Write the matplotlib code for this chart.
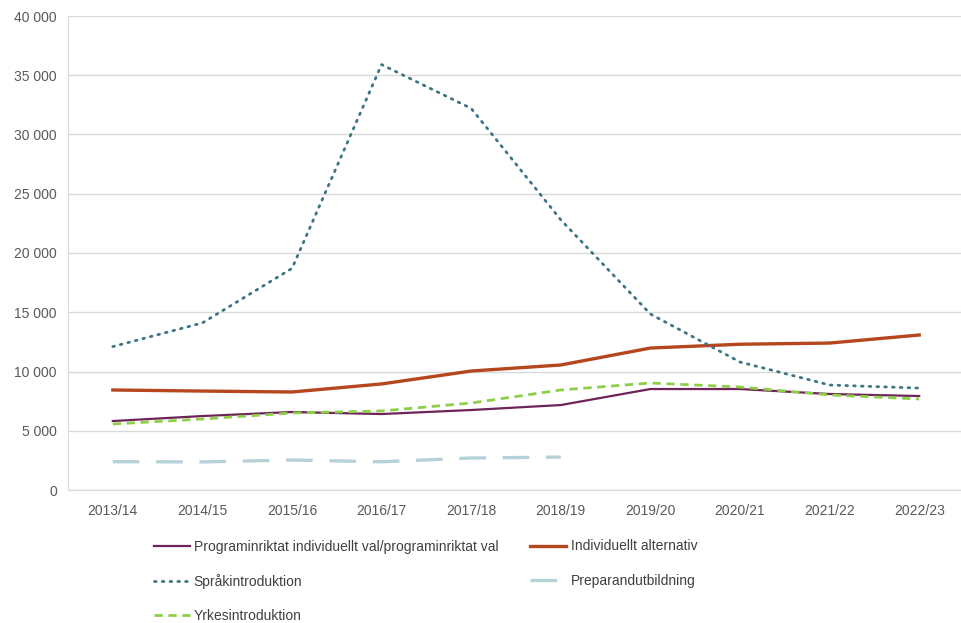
import matplotlib.pyplot as plt
from matplotlib.ticker import FuncFormatter

plt.rcParams['font.family'] = ['Liberation Sans', 'DejaVu Sans']

years = ["2013/14", "2014/15", "2015/16", "2016/17", "2017/18",
         "2018/19", "2019/20", "2020/21", "2021/22", "2022/23"]
programinriktat = [5820, 6240, 6580, 6410, 6750, 7170, 8520, 8520, 8100, 7930]
individuellt = [8440, 8350, 8270, 8950, 10040, 10550, 11980, 12300, 12400, 13080]
sprakintro = [12100, 14100, 18700, 35900, 32200, 22800, 14850, 10800, 8860, 8600]
preparand = [2390, 2370, 2530, 2380, 2700, 2780]
yrkesintro = [5570, 5990, 6500, 6670, 7340, 8440, 9030, 8690, 8020, 7680]

fig = plt.figure(figsize=(9.62, 6.23), dpi=100)
ax = fig.add_axes([68 / 962, 1 - 490 / 623, 896 / 962, 474 / 623])

x = list(range(len(years)))
l1, = ax.plot(x, programinriktat, color="#6e2458", lw=1.6,
              label="Programinriktat individuellt val/programinriktat val")
l2, = ax.plot(x, individuellt, color="#b5461e", lw=2.4,
              label="Individuellt alternativ")
l3, = ax.plot(x, sprakintro, color="#3c7584", lw=2.0, linestyle=(0, (0.6, 2.2)),
              dash_capstyle="round", label="Språkintroduktion")
l4, = ax.plot(x[:len(preparand)], preparand, color="#b6d2d9", lw=2.4,
              linestyle=(0, (8, 5)), label="Preparandutbildning")
l5, = ax.plot(x, yrkesintro, color="#8ecf4a", lw=2.0, linestyle=(0, (3, 2)),
              label="Yrkesintroduktion")

ax.set_xlim(-0.5, len(years) - 0.5)
ax.set_ylim(0, 40000)
ax.set_yticks(range(0, 40001, 5000))
ax.yaxis.set_major_formatter(FuncFormatter(lambda v, p: f"{int(v):,}".replace(",", " ")))
ax.set_xticks(x)
ax.set_xticklabels(years)
ax.grid(axis="y", color="#d9d9d9", lw=1)
ax.set_axisbelow(True)
for s in ["top", "right"]:
    ax.spines[s].set_visible(False)
ax.spines["left"].set_color("#d9d9d9")
ax.spines["bottom"].set_color("#d9d9d9")
ax.tick_params(axis="y", length=0, labelsize=10, colors="#595959", pad=8)
ax.tick_params(axis="x", length=0, labelsize=10, colors="#595959", pad=10)

fig.legend(handles=[l1, l3, l5, l2, l4], ncol=2, loc="upper left",
           bbox_to_anchor=(141 / 962, 1 - 527 / 623), frameon=False,
           fontsize=10, labelcolor="#404040", handlelength=2.6,
           handletextpad=0.3, columnspacing=2.3, labelspacing=1.45)

fig.savefig("out.png", dpi=100)
